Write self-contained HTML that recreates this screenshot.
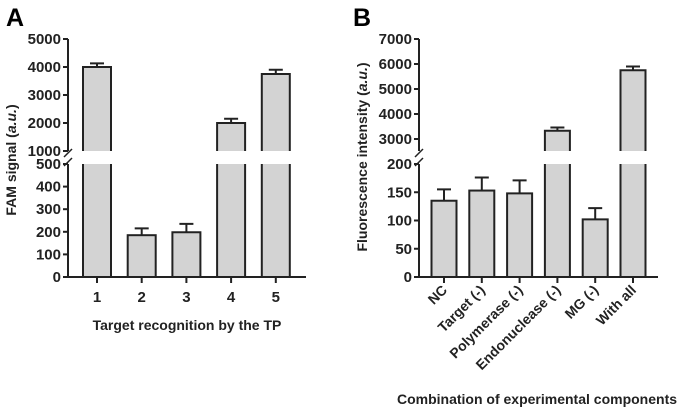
<!DOCTYPE html>
<html><head><meta charset="utf-8"><style>
html,body{margin:0;padding:0;background:#fff;}
svg{display:block;font-family:"Liberation Sans",sans-serif;font-weight:bold;}
</style></head><body>
<svg id="c" width="685" height="413" viewBox="0 0 685 413"></svg>
<script>
const catsA=["1","2","3","4","5"];
const valsA=[4000,185,198,2000,3750];
const errA=[130,30,37,150,150];
const upTicksA=[1000,2000,3000,4000,5000];
const loTicksA=[0,100,200,300,400,500];
const catsB=["NC","Target (-)","Polymerase (-)","Endonuclease (-)","MG (-)","With all"];
const valsB=[135,153,148,3330,102,5750];
const errB=[20,23,23,130,20,150];
const upTicksB=[3000,4000,5000,6000,7000];
const loTicksB=[0,50,100,150,200];
const NS="http://www.w3.org/2000/svg";
const svg=document.getElementById('c');
function mk(t,a,p){const e=document.createElementNS(NS,t);for(const k in a)e.setAttribute(k,a[k]);(p||svg).appendChild(e);return e;}
function txt(s,a,p){const e=mk('text',a,p);e.textContent=s;return e;}
function panel(o){
 const g=mk('g',{});
 
 
 const loY=v=>o.y0-(v/o.loMax)*(o.y0-o.loTop);
 const upY=v=>o.upBot-((v-o.upMin)/(o.upMax-o.upMin))*(o.upBot-o.upTop);
 const yOf=v=>v<=o.loMax?loY(v):upY(v);
 const xC=i=>o.xFirst+i*o.step;
 o.vals.forEach((v,i)=>{
  const x=xC(i)-o.bw/2;
  if(v<=o.loMax){
   const r=mk('rect',{x:x,y:yOf(v),width:o.bw,height:o.y0-yOf(v),fill:'#d3d3d3',stroke:'#222','stroke-width':2},g);
   
   
  } else {
   const r1=mk('rect',{x:x,y:o.loTop,width:o.bw,height:o.y0-o.loTop,fill:'#d3d3d3',stroke:'none'},g);
   
   
   mk('path',{d:`M${x},${o.loTop}V${o.y0}M${x+o.bw},${o.loTop}V${o.y0}`,stroke:'#222','stroke-width':2,fill:'none'},g);
   const r2=mk('rect',{x:x,y:yOf(v),width:o.bw,height:o.upBot-yOf(v),fill:'#d3d3d3',stroke:'none'},g);
   
   
   mk('path',{d:`M${x},${o.upBot}V${yOf(v)}H${x+o.bw}V${o.upBot}`,stroke:'#222','stroke-width':2,fill:'none'},g);
  }
  const e=yOf(v+o.err[i]);
  mk('path',{d:`M${xC(i)},${yOf(v)}V${e}M${xC(i)-7},${e}H${xC(i)+7}`,stroke:'#222','stroke-width':2,fill:'none'},g);
 });
 mk('path',{d:`M${o.ax},${o.upTop}V${o.upBot}M${o.ax},${o.loTop}V${o.y0}H${o.xEnd}`,stroke:'#222','stroke-width':2,fill:'none'},g);
 mk('path',{d:`M${o.ax-4},${o.upBot+6}L${o.ax+4},${o.upBot-2}M${o.ax-4},${o.loTop+2}L${o.ax+4},${o.loTop-6}`,stroke:'#222','stroke-width':1.5,fill:'none'},g);
 o.upTicks.forEach(t=>{const y=upY(t);mk('line',{x1:o.ax-5,x2:o.ax,y1:y,y2:y,stroke:'#222','stroke-width':2},g);txt(String(t),{x:o.ax-7,y:y+5,'text-anchor':'end','font-size':15,fill:'#222'},g);});
 o.loTicks.forEach(t=>{const y=loY(t);mk('line',{x1:o.ax-5,x2:o.ax,y1:y,y2:y,stroke:'#222','stroke-width':2},g);txt(String(t),{x:o.ax-7,y:y+5,'text-anchor':'end','font-size':15,fill:'#222'},g);});
 o.cats.forEach((c,i)=>{mk('line',{x1:xC(i),x2:xC(i),y1:o.y0,y2:o.y0+6,stroke:'#222','stroke-width':2},g);
  if(o.rot){txt(c,{x:xC(i)+4,y:o.y0+14,'text-anchor':'end','font-size':14,fill:'#222',transform:`rotate(-45 ${xC(i)+4} ${o.y0+14})`},g);}
  else txt(c,{x:xC(i),y:o.y0+25,'text-anchor':'middle','font-size':15,fill:'#222'},g);});
 return g;
}
panel({name:'panel-a',cats:catsA,vals:valsA,err:errA,upTicks:upTicksA,loTicks:loTicksA,ax:68,xEnd:306,y0:277,loTop:164,loMax:500,upTop:39,upBot:151,upMin:1000,upMax:5000,xFirst:97,step:44.7,bw:28});
panel({name:'panel-b',cats:catsB,vals:valsB,err:errB,upTicks:upTicksB,loTicks:loTicksB,ax:419,xEnd:658,y0:277,loTop:164,loMax:200,upTop:39,upBot:151,upMin:2520,upMax:7000,xFirst:444,step:37.8,bw:25,rot:true});
</script>
<svg style="position:absolute;left:0;top:0" width="685" height="413">
<text x="6" y="26" font-size="25" font-weight="bold" font-family="Liberation Sans,sans-serif">A</text>
<text x="353" y="26" font-size="25" font-weight="bold" font-family="Liberation Sans,sans-serif">B</text>
<text transform="translate(16 160) rotate(-90)" text-anchor="middle" font-size="14" font-weight="bold" font-family="Liberation Sans,sans-serif" fill="#222">FAM signal (<tspan font-style="italic">a.u.</tspan>)</text>
<text x="187" y="330" text-anchor="middle" font-size="14" font-weight="bold" font-family="Liberation Sans,sans-serif" fill="#222">Target recognition by the TP</text>
<text transform="translate(367 157) rotate(-90)" text-anchor="middle" font-size="14" font-weight="bold" font-family="Liberation Sans,sans-serif" fill="#222">Fluorescence intensity (<tspan font-style="italic">a.u.</tspan>)</text>
<text x="537" y="404" text-anchor="middle" font-size="14" font-weight="bold" font-family="Liberation Sans,sans-serif" fill="#222">Combination of experimental components</text>
</svg>
</body></html>
